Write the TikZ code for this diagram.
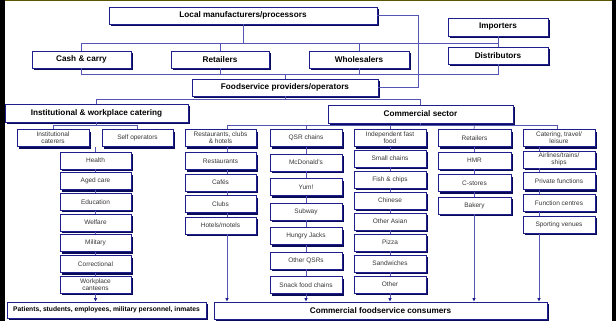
\documentclass[tikz,border=0pt]{standalone}
\usepackage{fontspec}
\setmainfont{Liberation Sans}
\usetikzlibrary{shadows, arrows.meta}
\definecolor{boxblue}{RGB}{30,30,140}
\definecolor{shadeblue}{RGB}{10,10,90}
\definecolor{linkblue}{RGB}{85,85,180}
\definecolor{framegold}{RGB}{90,85,0}
\definecolor{textgrey}{RGB}{55,55,55}
\tikzset{%
	box/.style = { draw=boxblue, line width=0.8pt, fill=white, inner sep=0pt, align=center,
		general shadow={shadow xshift=2pt, shadow yshift=-2pt, fill=shadeblue} },
	headbox/.style = { box, minimum height=17pt, font=\fontsize{8.2}{9}\selectfont\bfseries },
	itembox/.style = { box, minimum width=72pt, minimum height=17pt, text=textgrey,
		font=\fontsize{6.5}{6.9}\selectfont },
	link/.style = { draw=linkblue, line width=0.7pt },
	flow/.style = { link, -{Latex[length=3.5pt,width=3.5pt,color=boxblue]} }
}

\begin{document}
\begin{tikzpicture}[x=1pt, y=-1pt]
	\useasboundingbox (0,0) rectangle (616,321);
	\fill[white] (4,1) rectangle (612,320.5);
	% frame
	\fill[black] (0,0) rectangle (4.5,321);
	\fill[black] (611.5,0) rectangle (615.5,321);
	\draw[framegold, line width=1.5pt] (4.5,0.75) -- (611.5,0.75);

	% 1. supply chain
	\node[headbox, minimum width=268pt] (local) at (243,15.5) {Local manufacturers/processors};
	\node[headbox, minimum width=100pt, minimum height=18pt] (import) at (498,27) {Importers};
	\node[headbox, minimum width=99pt] (cash) at (81.5,59.5) {Cash \& carry};
	\node[headbox, minimum width=98pt] (retail) at (220,59.5) {Retailers};
	\node[headbox, minimum width=100pt] (whole) at (359,59.5) {Wholesalers};
	\node[headbox, minimum width=100pt] (distrib) at (498,55.5) {Distributors};
	\node[headbox, minimum width=186pt] (foodserv) at (285,87.5) {Foodservice providers/operators};
	\node[headbox, minimum width=183pt, minimum height=18pt] (instit) at (96.5,113) {Institutional \& workplace catering};
	\node[headbox, minimum width=185pt, minimum height=18pt] (commerc) at (420.5,114) {Commercial sector};

	\coordinate (supply) at (243,43);
	\coordinate (collect) at (285,74);
	\coordinate (split) at (285,99);
	\draw[link] (local.south) -- (supply);
	\draw[link] (cash.north) |- (supply);
	\draw[link] (distrib.north) |- (supply);
	\draw[link] (retail.north) -- (retail.north |- supply);
	\draw[link] (whole.north) -- (whole.north |- supply);
	\draw[link] (import.south) -- (import.south |- supply);
	\draw[link] (cash.south) |- (collect);
	\draw[link] (distrib.south) |- (collect);
	\draw[link] (retail.south) -- (retail.south |- collect);
	\draw[link] (whole.south) -- (whole.south |- collect);
	\draw[link] (collect) -- (foodserv.north);
	\draw[link] (local.east) -- ++(41,0) |- (foodserv.east);
	\draw[link] (foodserv.south) -- (split);
	\draw[link] (instit.north) |- (split);
	\draw[link] (commerc.north) |- (split);

	% 2. institutional & workplace
	\node[itembox] (cater) at (53,138) {Institutional\\caterers};
	\node[itembox, minimum width=71pt] (selfop) at (137.5,138) {Self operators};
	\foreach \txt [count=\k] in {Health, Aged care, Education, Welfare, Military, Correctional, {Workplace\\canteens}}
		\node[itembox, minimum width=71pt] (i\k) at (95.5,{160.5+20.7*(\k-1)}) {\txt};
	\node[headbox, minimum width=199pt, minimum height=16pt, font=\fontsize{6.7}{7.5}\selectfont\bfseries] (patients) at (106.5,310) {Patients, students, employees, military personnel, inmates};

	\coordinate (instsplit) at (96.5,125);
	\coordinate (inststart) at (95.5,147);
	\draw[link] (instit.south) -- (instsplit);
	\draw[link] (cater.north) |- (instsplit);
	\draw[link] (selfop.north) |- (instsplit);
	\draw[link] (inststart) -- (i1.north);
	\foreach \j [evaluate=\j as \i using int(\j-1)] in {2,...,7}
		\draw[link] (i\i.south) -- (i\j.north);
	\draw[flow] (i7.south) -- (patients.north -| i7.south);

	% 3. commercial sector
	\node[itembox, minimum width=71pt] (a0) at (220.5,138) {Restaurants, clubs\\\& hotels};
	\foreach \txt [count=\k] in {Restaurants, Cafés, Clubs, Hotels/motels}
		\node[itembox, minimum width=71pt] (a\k) at (220.5,{161+21.5*(\k-1)}) {\txt};
	\node[itembox] (b0) at (306,138) {QSR chains};
	\foreach \txt [count=\k] in {McDonald's, Yum!, Subway, Hungry Jacks, Other QSRs, Snack food chains}
		\node[itembox] (b\k) at (306,{162.5+24.5*(\k-1)}) {\txt};
	\node[itembox] (c0) at (390,138) {Independent fast\\food};
	\foreach \txt [count=\k] in {Small chains, Fish \& chips, Chinese, Other Asian, Pizza, Sandwiches, Other}
		\node[itembox] (c\k) at (390,{158.5+21*(\k-1)}) {\txt};
	\node[itembox, minimum width=73pt] (d0) at (474.5,138) {Retailers};
	\foreach \txt [count=\k] in {HMR, C-stores, Bakery}
		\node[itembox, minimum width=73pt] (d\k) at (474.5,{160.5+22.5*(\k-1)}) {\txt};
	\node[itembox] (e0) at (559,138) {Catering, travel/\\leisure};
	\foreach \txt [count=\k] in {{Airlines/trains/\\ships}, Private functions, Function centres, Sporting venues}
		\node[itembox] (e\k) at (559,{159.5+21.7*(\k-1)}) {\txt};
	\node[headbox, minimum width=333pt] (cons) at (380.5,310.5) {Commercial foodservice consumers};

	\coordinate (comsplit) at (420.5,125);
	\coordinate (a-line) at (227,0);
	\coordinate (b-line) at (306,0);
	\coordinate (c-line) at (390,0);
	\coordinate (d-line) at (474,0);
	\coordinate (e-line) at (539,0);
	\draw[link] (commerc.south) -- (comsplit);
	\draw[link] (a0.north -| a-line) |- (comsplit);
	\draw[link] (e0.north -| 557,0) |- (comsplit);
	\foreach \col in {b,c,d}
		\draw[link] (\col0.north -| \col-line) -- (\col0.north |- comsplit);
	\foreach \col/\last in {a/4, b/6, c/7, d/3, e/4} {
		\foreach \j [evaluate=\j as \i using int(\j-1)] in {1,...,\last}
			\draw[link] (\col\i.south -| \col-line) -- (\col\j.north -| \col-line);
		\draw[flow] (\col\last.south -| \col-line) -- (cons.north -| \col-line);
	}
\end{tikzpicture}
\end{document}
